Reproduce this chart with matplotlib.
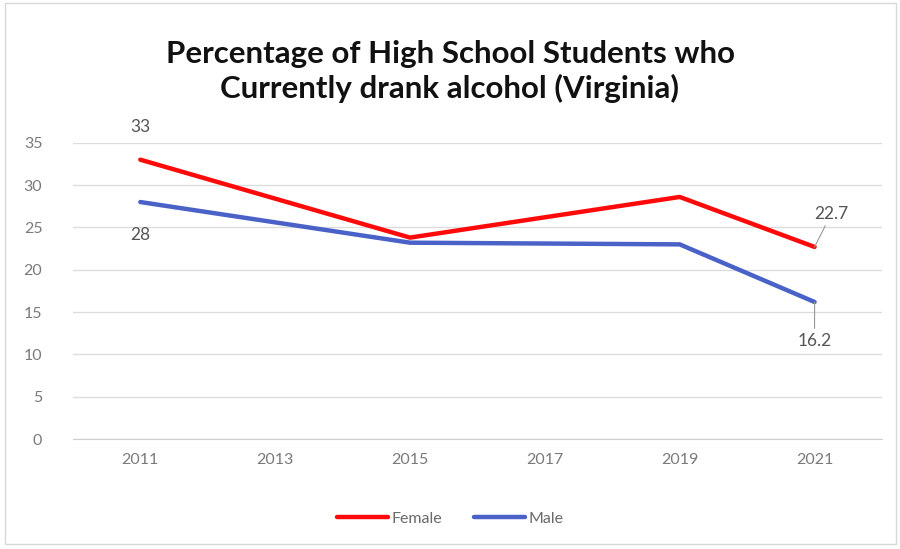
import matplotlib.pyplot as plt
import numpy as np

# survey years and percentages (no female figure reported for 2013 / 2017)
years = ['2011', '2013', '2015', '2017', '2019', '2021']
female = [33, None, 23.8, None, 28.6, 22.7]
male = [28, None, 23.2, None, 23.0, 16.2]

plt.rcParams['font.family'] = ['Lato', 'DejaVu Sans']

fig = plt.figure(figsize=(9, 5.49), dpi=100)
ax = fig.add_axes([0.081, 0.2, 0.899, 0.54])

x = np.arange(len(years))

def pts(vals):
    idx = [i for i, v in enumerate(vals) if v is not None]
    return x[idx], [vals[i] for i in idx]

fx, fy = pts(female)
mx, my = pts(male)
ax.plot(fx, fy, color='#ff0a0a', lw=3.2, label='Female', solid_capstyle='round', zorder=3)
ax.plot(mx, my, color='#4a62c8', lw=3.2, label='Male', solid_capstyle='round', zorder=3)

ax.set_xlim(-0.5, len(years) - 0.5)
ax.set_ylim(0, 35)
ax.set_yticks(range(0, 36, 5))
ax.set_xticks(x)
ax.set_xticklabels(years)
ax.grid(axis='y', color='#dcdcdc', lw=1)
ax.set_axisbelow(True)
for s in ['top', 'right', 'left']:
    ax.spines[s].set_visible(False)
ax.spines['bottom'].set_color('#d0d0d0')
ax.tick_params(length=0, labelsize=11.5, colors='#7a7a7a', pad=10)
ax.tick_params(axis='y', pad=22)

lab = dict(fontsize=12.5, color='#555555', ha='center')
ax.annotate(str(female[0]), (fx[0], fy[0]), xytext=(0, 18), textcoords='offset points', va='bottom', **lab)
ax.annotate(str(male[0]), (mx[0], my[0]), xytext=(0, -18), textcoords='offset points', va='top', **lab)
ax.annotate(str(female[-1]), (fx[-1], fy[-1]), xytext=(12, 18), textcoords='offset points', va='bottom',
            arrowprops=dict(arrowstyle='-', color='#999999', lw=0.8, shrinkA=2, shrinkB=0),
            bbox=dict(fc='white', ec='none', pad=1), **lab)
ax.annotate(str(male[-1]), (mx[-1], my[-1]), xytext=(0, -22), textcoords='offset points', va='top',
            arrowprops=dict(arrowstyle='-', color='#999999', lw=0.8, shrinkA=2, shrinkB=0),
            bbox=dict(fc='white', ec='none', pad=1), **lab)

fig.text(0.5, 0.87, 'Percentage of High School Students who\nCurrently drank alcohol (Virginia)',
         ha='center', va='center', fontsize=22.5, fontweight='bold', color='#111111', linespacing=1.25)

leg = fig.legend(loc='center', bbox_to_anchor=(0.5, 0.055), ncol=2, frameon=False,
                 fontsize=11.5, handlelength=3.2, handletextpad=0.2, columnspacing=2)
for t in leg.get_texts():
    t.set_color('#6a6a6a')

# thin outer frame
fig.patches.append(plt.Rectangle((0.006, 0.01), 0.99, 0.985, transform=fig.transFigure,
                                 fill=False, ec='#d8d8d8', lw=1))

fig.savefig('out.png', dpi=100)
